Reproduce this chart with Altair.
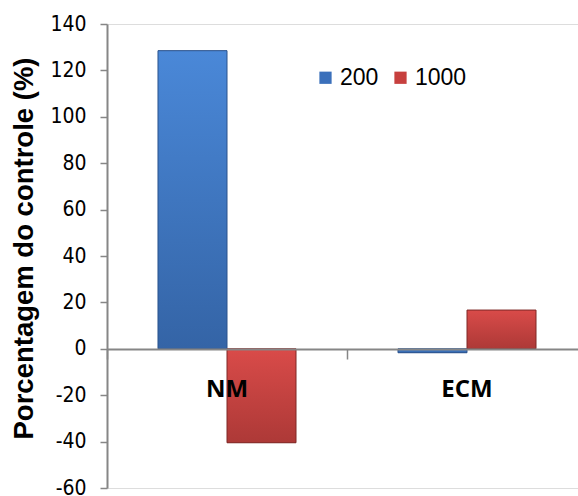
import altair as alt
import pandas as pd

categories = ["NM", "NM", "ECM", "ECM"]
series = ["200", "1000", "200", "1000"]
values = [128.5, -40.5, -1.7, 16.7]

df = pd.DataFrame({"cat": categories, "serie": series, "val": values})

PLOT_W = 471
PLOT_H = 464

x_enc = alt.X("cat:N", sort=["NM", "ECM"],
              scale=alt.Scale(range=[0, 480], paddingInner=0, paddingOuter=0),
              axis=alt.Axis(title=None, orient="bottom", offset=-(PLOT_H - 325), zindex=1,
                            domain=True, domainColor="#868686", domainWidth=2,
                            ticks=True, tickColor="#868686", tickWidth=1.5, tickSize=10,
                            bandPosition=0, labelAngle=0,
                            labelFont="Open Sans", labelFontWeight="bold",
                            labelFontSize=24, labelColor="black", labelPadding=18,
                            labelBaseline="top"))
xo_enc = alt.XOffset("serie:N", sort=["200", "1000"],
                     scale=alt.Scale(domain=["200", "1000"], paddingOuter=0.739, paddingInner=0))
y_enc = alt.Y("val:Q", scale=alt.Scale(domain=[-60, 140], nice=False),
              axis=alt.Axis(title="Porcentagem do controle (%)", values=list(range(-60, 141, 20)),
                            grid=False, domainColor="#868686", domainWidth=2,
                            tickColor="#868686", tickWidth=1.5, tickSize=7,
                            labelExpr="replace(datum.label, '\u2212', '-')",
                            labelFont="DejaVu Sans Condensed",
                            labelFontSize=21, labelColor="black", labelPadding=14,
                            titleFont="Liberation Sans", titleFontWeight="bold",
                            titleFontSize=27.5, titleColor="black",
                            titleX=-75, titleY=224, titleAngle=270,
                            titleAlign="center", titleBaseline="alphabetic"))

base = alt.Chart(df).mark_bar(strokeWidth=1).encode(
    x=x_enc, xOffset=xo_enc, y=y_enc,
    color=alt.Color("serie:N", sort=["200", "1000"],
                    scale=alt.Scale(domain=["200", "1000"], range=["#3b70bb", "#c7403e"]),
                    legend=alt.Legend(title=None, orient="none", legendX=207, legendY=42,
                                      direction="horizontal", symbolType="square",
                                      symbolSize=150, symbolStrokeWidth=0,
                                      labelFont="Liberation Sans", labelFontSize=23,
                                      labelColor="black", columnPadding=10, labelOffset=3)),
)

def grad_layer(name, top, bottom, edge):
    return alt.Chart(df).transform_filter(alt.datum.serie == name).mark_bar(
        color=alt.Gradient(gradient="linear", x1=0, y1=0, x2=0, y2=1,
                           stops=[alt.GradientStop(color=top, offset=0),
                                  alt.GradientStop(color=bottom, offset=1)]),
        stroke=edge, strokeWidth=1,
    ).encode(x=x_enc, xOffset=xo_enc, y=y_enc)

blue = grad_layer("200", "#4a88d8", "#3464a6", "#2a528c")
red = grad_layer("1000", "#d94b49", "#ad3937", "#7e2827")

chart = alt.layer(base, blue, red).properties(
    width=PLOT_W, height=PLOT_H,
    autosize=alt.AutoSizeParams(type="none"),
    padding={"left": 107, "top": 24, "right": 0, "bottom": 8},
).configure_view(stroke=None).configure(background="white")

chart.save("out.html", embed_options={"renderer": "svg", "actions": False})
